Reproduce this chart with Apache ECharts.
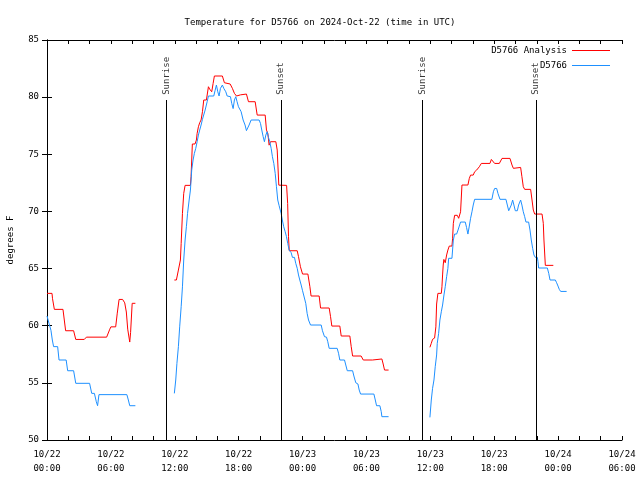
<!DOCTYPE html>
<html>
<head>
<meta charset="utf-8">
<script src="https://cdn.jsdelivr.net/npm/echarts@6/dist/echarts.min.js"></script>
<style>html,body{margin:0;padding:0;background:#fff}#c{width:640px;height:480px}</style>
</head>
<body>
<div id="c"></div>
<script>
// Hours since 2024-10-22 00:00 UTC; null breaks the line
const analysisHours = [
0.0,0.47,0.52,0.69,1.5,1.75,2.5,2.7,3.5,3.7,5.6,5.9,6.0,6.45,6.6,6.77,7.1,7.3,7.45,7.58,7.77,7.85,8.0,8.3,8.31,
11.96,12.15,12.34,12.53,12.6,12.72,12.84,12.97,13.47,13.53,13.65,13.9,14.03,14.1,14.22,14.34,14.47,14.6,14.72,14.97,15.16,15.28,15.47,15.6,15.72,16.47,16.66,17.2,17.41,17.6,17.8,18.17,18.73,18.92,19.55,19.74,20.49,20.61,20.74,20.86,20.99,21.49,21.62,21.77,22.5,22.6,22.68,22.75,23.5,23.62,23.8,24.0,24.5,24.69,24.8,25.56,25.69,26.5,26.63,26.75,27.5,27.63,28.44,28.57,28.7,29.5,29.7,30.57,30.64,31.45,31.57,31.7,32.08,32.09,
35.96,36.09,36.21,36.4,36.52,36.59,36.71,37.03,37.09,37.15,37.21,37.27,37.4,37.53,37.65,37.78,38.03,38.09,38.16,38.28,38.53,38.66,38.78,38.84,38.97,39.53,39.66,39.78,40.03,40.16,40.35,40.6,40.79,41.6,41.73,41.85,42.04,42.48,42.73,43.48,43.67,43.8,43.98,44.48,44.6,44.73,44.86,45.42,45.55,45.67,45.8,46.49,46.61,46.67,46.8,47.55
];
const analysisTemps = [
62.83,62.83,62.36,61.43,61.43,59.56,59.56,58.8,58.8,59.0,59.0,59.7,59.9,59.9,61.1,62.3,62.3,62.0,61.2,59.7,58.57,59.4,61.96,61.96,null,
64.0,64.0,64.87,65.75,67.2,69.83,71.58,72.28,72.28,73.04,75.9,75.9,76.25,76.83,77.41,77.76,78.0,78.73,79.75,79.75,80.91,80.7,80.47,81.2,81.85,81.85,81.26,81.15,80.77,80.33,80.1,80.2,80.27,79.6,79.6,78.43,78.43,77.12,76.83,75.8,76.1,76.1,75.37,72.3,72.28,70.7,67.8,66.56,66.56,66.04,65.16,64.52,64.52,63.41,62.6,62.6,61.55,61.55,60.79,59.97,59.97,59.1,59.1,58.17,57.35,57.35,57.0,57.0,57.09,57.09,56.65,56.12,56.12,null,
58.11,58.46,58.81,58.92,59.9,61.9,62.83,62.83,63.41,64.44,65.31,65.8,65.51,66.19,66.62,66.97,66.97,67.61,68.96,69.66,69.66,69.4,69.25,69.97,72.31,72.31,72.89,73.18,73.18,73.47,73.62,73.91,74.2,74.2,74.55,74.64,74.2,74.2,74.64,74.64,74.06,73.77,73.85,73.85,73.04,72.16,71.93,71.93,71.0,70.12,69.77,69.77,68.96,67.5,65.28,65.28
];
const stationHours = [
0.0,0.19,0.37,0.5,0.62,1.0,1.13,1.8,1.94,2.5,2.7,4.0,4.2,4.45,4.63,4.75,4.88,7.5,7.64,7.77,8.3,8.31,
11.96,12.09,12.2,12.34,12.46,12.6,12.72,12.84,12.97,13.09,13.2,13.35,13.47,13.59,13.72,13.84,13.97,14.1,14.22,14.34,14.47,14.6,14.85,15.04,15.16,15.66,15.79,15.91,16.04,16.16,16.29,16.47,16.6,16.79,16.92,17.23,17.35,17.48,17.6,17.73,17.85,17.98,18.1,18.23,18.42,18.6,18.73,18.85,18.98,19.17,19.92,20.05,20.17,20.3,20.42,20.55,20.67,20.8,20.92,21.05,21.17,21.3,21.43,21.55,21.67,21.8,21.99,22.1,22.23,22.37,22.49,22.61,22.74,22.93,23.05,23.24,23.36,23.5,23.62,23.74,23.87,24.0,24.18,24.3,24.43,24.56,24.75,25.75,25.87,26.06,26.25,26.37,26.5,27.25,27.38,27.5,27.94,28.06,28.2,28.7,28.82,29.0,29.2,29.32,29.45,30.7,30.83,30.95,31.26,31.39,31.45,32.08,32.09,
35.96,36.09,36.21,36.34,36.46,36.59,36.65,36.78,36.9,37.03,37.15,37.28,37.4,37.53,37.65,37.72,38.03,38.16,38.28,38.47,38.6,38.72,38.84,39.28,39.4,39.53,39.66,39.78,39.91,40.03,40.16,41.78,41.92,42.04,42.23,42.35,42.54,43.1,43.23,43.36,43.48,43.6,43.73,43.85,43.98,44.17,44.29,44.48,44.6,44.73,44.86,44.98,45.23,45.36,45.48,45.61,45.73,45.86,46.05,46.11,46.17,46.99,47.12,47.24,47.74,47.86,47.99,48.11,48.24,48.8
];
const stationTemps = [
60.85,60.2,59.6,58.75,58.17,58.17,57.0,57.0,56.06,56.06,54.96,54.96,54.08,54.08,53.35,53.0,53.97,53.97,53.5,53.0,53.0,null,
54.08,55.25,56.7,58.17,59.9,61.66,63.4,65.75,67.5,68.66,69.83,71.0,71.87,73.62,74.5,75.08,75.52,76.1,76.68,77.12,77.56,78.06,78.87,79.6,80.1,80.1,80.6,81.06,80.47,80.1,80.77,81.06,80.77,80.47,80.1,80.04,79.45,79.0,79.75,80.04,79.6,79.16,79.0,78.73,78.0,77.56,77.07,77.07,77.56,78.0,78.0,77.7,77.12,76.54,76.1,76.68,76.97,76.48,76.1,75.52,74.79,74.2,73.33,72.16,71.0,70.5,69.83,69.25,68.66,68.22,67.79,67.2,66.62,66.39,65.98,65.98,65.46,65.02,64.44,64.0,63.56,63.06,62.89,61.96,61.08,60.5,60.06,60.06,59.56,59.04,59.0,58.6,58.02,58.02,57.59,57.0,57.0,56.56,56.06,56.06,55.6,55.01,54.9,54.37,54.02,54.02,53.5,53.0,53.0,52.48,52.04,52.04,null,
51.98,53.5,54.52,55.25,56.41,57.44,58.46,59.33,60.5,61.22,61.81,62.69,63.41,64.29,65.02,65.9,65.9,67.5,68.02,68.02,68.37,68.72,69.07,69.07,68.6,68.02,68.72,69.4,69.97,70.56,71.06,71.06,71.72,72.01,72.01,71.58,71.06,71.06,70.56,70.06,70.06,70.56,71.0,70.56,70.06,70.06,70.56,71.0,70.56,69.97,69.54,69.07,69.07,68.37,67.5,66.77,66.19,65.98,65.98,65.6,65.05,65.05,64.58,64.0,64.0,63.76,63.47,63.18,63.0,63.0
];
const sunEventHours = [11.24, 21.96, 35.27, 45.92];
const sunEventLabels = ['Sunrise', 'Sunset', 'Sunrise', 'Sunset'];
const sunLineTop = 79.75;
const sunLabelAt = 80.2;
const seriesNames = ['D5766 Analysis', 'D5766'];
const titleText = 'Temperature for D5766 on 2024-Oct-22 (time in UTC)';
const yName = 'degrees F';

const FONT = 'DejaVu Sans Mono';
const pair = (xs, ys) => xs.map((x, i) => [x, ys[i] === null ? '-' : ys[i]]);
const pad = n => (n < 10 ? '0' : '') + n;

const chart = echarts.init(document.getElementById('c'), null, {renderer: 'canvas'});
const xBase = {
  type: 'value', min: 0, max: 54, interval: 2,
  axisLine: {show: true, lineStyle: {color: '#000', width: 1}},
  axisTick: {show: true, inside: true, length: 4, lineStyle: {color: '#000'}},
  splitLine: {show: false}
};
const yBase = {
  type: 'value', min: 50, max: 85, interval: 5,
  axisLine: {show: true, lineStyle: {color: '#000', width: 1}},
  axisTick: {show: true, inside: true, length: 5, lineStyle: {color: '#000'}},
  splitLine: {show: false}
};
chart.setOption({
  animation: false,
  backgroundColor: '#fff',
  title: {text: titleText, left: 'center', top: 13,
    textStyle: {fontFamily: FONT, fontSize: 9, fontWeight: 'normal', color: '#000'}},
  grid: {left: 47, right: 18, top: 40, bottom: 40, containLabel: false, outerBoundsMode: 'none'},
  legend: {
    data: seriesNames, orient: 'vertical', right: 25, top: 41,
    align: 'right', icon: 'rect', itemWidth: 38, itemHeight: 1, itemGap: 6,
    textStyle: {fontFamily: FONT, fontSize: 9, color: '#000'},
    selectedMode: false
  },
  xAxis: [
    Object.assign({}, xBase, {position: 'bottom',
      axisLabel: {show: true, margin: 8, fontFamily: FONT, fontSize: 9, color: '#000', lineHeight: 14,
        showMinLabel: true, showMaxLabel: true,
        formatter: v => {
          if (v % 6 !== 0) return '';
          const day = 22 + Math.floor(v / 24);
          return '10/' + day + '\n' + pad(v % 24) + ':00';
        }}}),
    Object.assign({}, xBase, {position: 'top', axisLabel: {show: false}})
  ],
  yAxis: [
    Object.assign({}, yBase, {position: 'left', name: yName, nameLocation: 'middle', nameGap: 32, nameRotate: 90,
      nameTextStyle: {fontFamily: FONT, fontSize: 9, color: '#000'},
      axisLabel: {show: true, margin: 8, fontFamily: FONT, fontSize: 9, color: '#000'}}),
    Object.assign({}, yBase, {position: 'right', axisLabel: {show: false}})
  ],
  series: [
    {name: seriesNames[0], type: 'line', data: pair(analysisHours, analysisTemps), showSymbol: false, symbol: 'none',
      connectNulls: false, lineStyle: {color: '#ff0000', width: 1}, itemStyle: {color: '#ff0000'}, z: 3},
    {name: seriesNames[1], type: 'line', data: pair(stationHours, stationTemps), showSymbol: false, symbol: 'none',
      connectNulls: false, lineStyle: {color: '#1e90ff', width: 1}, itemStyle: {color: '#1e90ff'}, z: 3},
    {name: 'sun', type: 'line', data: [], silent: true,
      markLine: {silent: true, symbol: 'none', animation: false, label: {show: false},
        lineStyle: {color: '#000', width: 1, type: 'solid'},
        data: sunEventHours.map(h => [{coord: [h, 50]}, {coord: [h, sunLineTop]}])}},
    {name: 'sunlabels', type: 'scatter', silent: true, symbolSize: 1, itemStyle: {color: 'rgba(0,0,0,0)'},
      data: sunEventHours.map((h, i) => ({value: [h, sunLabelAt], name: sunEventLabels[i]})),
      label: {show: true, position: 'inside', rotate: 90, align: 'left', verticalAlign: 'middle',
        formatter: p => p.name, fontFamily: FONT, fontSize: 9, color: '#000'},
      labelLayout: {hideOverlap: false}}
  ]
});
</script>
</body>
</html>
